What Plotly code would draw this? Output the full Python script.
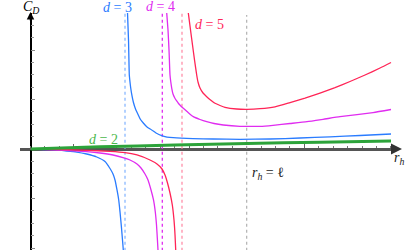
import plotly.graph_objects as go

# ---- data (x in units of l, y in arbitrary C_D units) ----
blue_up_x = [0.4487, 0.4533, 0.4570, 0.4602, 0.4635, 0.4695, 0.4755, 0.4857, 0.4986, 0.5088,
             0.5217, 0.5389, 0.5606, 0.5805, 0.6068, 0.6314, 0.6605,
             0.7516, 0.8441, 0.9690, 1.1078, 1.2465, 1.3853, 1.5241, 1.6674]
blue_up_y = [2.747, 2.202, 1.495, 1.354, 1.232, 1.071, 0.949, 0.808, 0.687, 0.596,
             0.525, 0.444, 0.384, 0.323, 0.269, 0.242, 0.228,
             0.210, 0.202, 0.196, 0.202, 0.222, 0.246, 0.273, 0.303]

magenta_up_x = [0.630, 0.636, 0.6406, 0.6452, 0.6489, 0.6531, 0.6591, 0.6674, 0.6762, 0.6845,
                0.6952, 0.7068, 0.7239, 0.7530, 0.7840, 0.8150, 0.8488, 0.8918, 0.9690,
                1.0615, 1.1216, 1.2003, 1.2789, 1.3529, 1.4316, 1.5102, 1.5842, 1.6674]
magenta_up_y = [2.747, 2.404, 2.000, 1.495, 1.354, 1.232, 1.111, 1.030, 0.970, 0.919,
                0.869, 0.822, 0.758, 0.653, 0.596, 0.552, 0.515, 0.485, 0.459,
                0.459, 0.479, 0.515, 0.552, 0.600, 0.653, 0.693, 0.737, 0.798]

red_up_x = [0.7299, 0.7401, 0.7493, 0.7586, 0.7687, 0.7747, 0.7840, 0.7979, 0.8150, 0.8326,
            0.8534, 0.8765, 0.8996, 0.9537, 1.0014, 1.0615, 1.1309, 1.2003, 1.2697, 1.3390,
            1.4084, 1.4778, 1.5472, 1.6166, 1.6674]
red_up_y = [2.747, 2.404, 2.101, 1.798, 1.495, 1.354, 1.232, 1.131, 1.057, 0.990,
            0.923, 0.879, 0.842, 0.808, 0.802, 0.814, 0.853, 0.939, 1.030, 1.131,
            1.242, 1.364, 1.495, 1.636, 1.747]

blue_lo_x = [0.0, 0.0902, 0.1674, 0.2137, 0.2599, 0.3062, 0.3446, 0.3677, 0.3816, 0.3908,
             0.4001, 0.4080, 0.4140, 0.4209, 0.4255, 0.4292, 0.4315]
blue_lo_y = [0.0, -0.014, -0.040, -0.061, -0.101, -0.162, -0.253, -0.394, -0.505, -0.626,
             -0.828, -1.030, -1.273, -1.596, -1.838, -2.040, -2.242]

magenta_lo_x = [0.0, 0.1364, 0.2599, 0.3215, 0.3816, 0.4278, 0.4602, 0.4926, 0.5111, 0.5296,
                0.5435, 0.5574, 0.5689, 0.5772, 0.5828, 0.5865, 0.5897, 0.5916]
magenta_lo_y = [0.0, -0.020, -0.055, -0.081, -0.121, -0.172, -0.222, -0.303, -0.384, -0.505,
                -0.626, -0.828, -1.030, -1.273, -1.535, -1.798, -2.040, -2.242]

red_lo_x = [0.0, 0.1364, 0.2599, 0.3677, 0.4371, 0.4926, 0.5527, 0.5851, 0.6082, 0.6221,
            0.6337, 0.6452, 0.6559, 0.6637, 0.6684, 0.6716, 0.6730]
red_lo_y = [0.0, -0.010, -0.026, -0.046, -0.071, -0.121, -0.222, -0.303, -0.404, -0.525,
            -0.687, -0.889, -1.131, -1.434, -1.737, -2.040, -2.242]

green_x = [0.0, 0.3215, 0.6684, 1.0014, 1.3390, 1.6674]
green_y = [0.0, 0.044, 0.081, 0.111, 0.137, 0.162]

asym_x = [0.4371, 0.6096, 0.7007]   # d = 3, 4, 5
ell_x = 1.0
y_bottom, y_top, ell_top = -2.3, 2.75, 2.707

BLUE, MAGENTA, RED, GREEN = "#2a7cff", "#e02cf0", "#ff2456", "#2ca33a"
ASYM_COL = ["#8ab8ff", "#e02cf0", "#ff8fa8"]

fig = go.Figure()

# asymptotes
for xa, c in zip(asym_x, ASYM_COL):
    fig.add_trace(go.Scatter(x=[xa, xa], y=[y_bottom, y_top], mode="lines",
                             line=dict(color=c, width=1.3, dash="dot"), hoverinfo="skip"))
fig.add_trace(go.Scatter(x=[ell_x, ell_x], y=[y_bottom, ell_top], mode="lines",
                         line=dict(color="#aaaaaa", width=1.1, dash="dot"), hoverinfo="skip"))

def curve(x, y, c, w=1.3):
    fig.add_trace(go.Scatter(x=x, y=y, mode="lines",
                             line=dict(color=c, width=w, shape="spline", smoothing=0.5),
                             hoverinfo="skip"))

curve(blue_up_x, blue_up_y, BLUE)
curve(magenta_up_x, magenta_up_y, MAGENTA)
curve(red_up_x, red_up_y, RED)
curve(blue_lo_x, blue_lo_y, BLUE)
curve(magenta_lo_x, magenta_lo_y, MAGENTA)
curve(red_lo_x, red_lo_y, RED)
curve(green_x, green_y, GREEN, 3)

W, H = 420, 250
def px(xp): return xp / W
def py(yp): return 1 - yp / H

font = "Liberation Serif"
ann = []
def label(text, xp, yp, color, size=14):
    ann.append(dict(text=text, x=px(xp), y=py(yp), xref="paper", yref="paper", showarrow=False,
                    font=dict(family=font, size=size, color=color), xanchor="center", yanchor="middle"))

label("<i>d</i> = 3", 117.5, 7, BLUE)
label("<i>d</i> = 4", 160.5, 6.5, MAGENTA)
label("<i>d</i> = 5", 209.7, 24.5, RED)
label("<i>d</i> = 2", 103, 139, "#4cb84c")
label("<i>r</i><sub><i>h</i></sub> = ℓ", 268, 173, "#222222")
label("<i>C</i><sub><i>D</i></sub>", 31, 7.5, "#000000")
label("<i>r</i><sub><i>h</i></sub>", 399, 158, "#222222")

# arrowheads
ann.append(dict(text="", x=px(402), y=py(149), xref="paper", yref="paper", showarrow=True,
                ax=-11, ay=0, arrowhead=2, arrowsize=1, arrowwidth=2.2, arrowcolor="#333333"))
ann.append(dict(text="", x=px(30.5), y=py(12), xref="paper", yref="paper", showarrow=True,
                ax=0, ay=10, arrowhead=2, arrowsize=1, arrowwidth=1.5, arrowcolor="#000000"))

fig.update_layout(
    width=W, height=H, margin=dict(l=0, r=0, t=0, b=0),
    paper_bgcolor="white", plot_bgcolor="rgba(0,0,0,0)", showlegend=False,
    annotations=ann,
    xaxis=dict(domain=[20 / W, 392 / W], range=[-0.0486, 1.672], anchor="free", position=1 - 149 / H,
               showline=True, linecolor="#555555", linewidth=2.5, layer="below traces",
               ticks="inside", ticklen=4, tickcolor="#666666", tick0=3 / 15, dtick=8 / 15,
               minor=dict(ticks="inside", ticklen=2.5, tickcolor="#777777", tick0=0, dtick=1 / 15),
               showticklabels=False, showgrid=False, zeroline=False, fixedrange=True),
    yaxis=dict(domain=[0, 1 - 13 / H], range=[-2.0404, 2.7475], anchor="free", position=30.5 / W,
               showline=True, linecolor="#000000", linewidth=1.5, layer="below traces",
               ticks="inside", ticklen=4, tickcolor="#888888", tick0=0, dtick=1,
               minor=dict(ticks="inside", ticklen=2.5, tickcolor="#999999", tick0=0, dtick=0.25),
               showticklabels=False, showgrid=False, zeroline=False, fixedrange=True),
)

fig.write_html("out.html", config={"displayModeBar": False},
               post_script="document.body.style.margin='0';document.body.style.overflow='hidden';")
